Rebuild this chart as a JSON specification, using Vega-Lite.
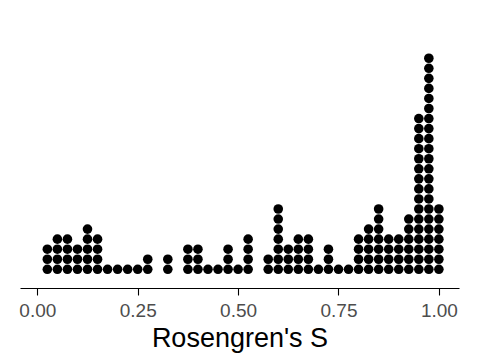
{
  "$schema": "https://vega.github.io/schema/vega-lite/v6.json",
  "width": 439,
  "height": 278,
  "autosize": "none",
  "padding": {"left": 20, "top": 10, "right": 21, "bottom": 76},
  "background": "white",
  "config": {"view": {"stroke": null}},
  "data": {"values": [
    {"s":0.025},{"s":0.025},{"s":0.025},
    {"s":0.05},{"s":0.05},{"s":0.05},{"s":0.05},
    {"s":0.075},{"s":0.075},{"s":0.075},{"s":0.075},
    {"s":0.1},{"s":0.1},{"s":0.1},
    {"s":0.125},{"s":0.125},{"s":0.125},{"s":0.125},{"s":0.125},
    {"s":0.15},{"s":0.15},{"s":0.15},{"s":0.15},
    {"s":0.175},
    {"s":0.2},
    {"s":0.225},
    {"s":0.25},
    {"s":0.275},{"s":0.275},
    {"s":0.325},{"s":0.325},
    {"s":0.375},{"s":0.375},{"s":0.375},
    {"s":0.4},{"s":0.4},{"s":0.4},
    {"s":0.425},
    {"s":0.45},
    {"s":0.475},{"s":0.475},{"s":0.475},
    {"s":0.5},
    {"s":0.525},{"s":0.525},{"s":0.525},{"s":0.525},
    {"s":0.575},{"s":0.575},
    {"s":0.6},{"s":0.6},{"s":0.6},{"s":0.6},{"s":0.6},{"s":0.6},{"s":0.6},
    {"s":0.625},{"s":0.625},{"s":0.625},
    {"s":0.65},{"s":0.65},{"s":0.65},{"s":0.65},
    {"s":0.675},{"s":0.675},{"s":0.675},{"s":0.675},
    {"s":0.7},
    {"s":0.725},{"s":0.725},{"s":0.725},
    {"s":0.75},
    {"s":0.775},
    {"s":0.8},{"s":0.8},{"s":0.8},{"s":0.8},
    {"s":0.825},{"s":0.825},{"s":0.825},{"s":0.825},{"s":0.825},
    {"s":0.85},{"s":0.85},{"s":0.85},{"s":0.85},{"s":0.85},{"s":0.85},{"s":0.85},
    {"s":0.875},{"s":0.875},{"s":0.875},{"s":0.875},
    {"s":0.9},{"s":0.9},{"s":0.9},{"s":0.9},
    {"s":0.925},{"s":0.925},{"s":0.925},{"s":0.925},{"s":0.925},{"s":0.925},
    {"s":0.95},{"s":0.95},{"s":0.95},{"s":0.95},{"s":0.95},{"s":0.95},{"s":0.95},{"s":0.95},
    {"s":0.95},{"s":0.95},{"s":0.95},{"s":0.95},{"s":0.95},{"s":0.95},{"s":0.95},{"s":0.95},
    {"s":0.975},{"s":0.975},{"s":0.975},{"s":0.975},{"s":0.975},{"s":0.975},{"s":0.975},{"s":0.975},
    {"s":0.975},{"s":0.975},{"s":0.975},{"s":0.975},{"s":0.975},{"s":0.975},{"s":0.975},{"s":0.975},
    {"s":0.975},{"s":0.975},{"s":0.975},{"s":0.975},{"s":0.975},{"s":0.975},
    {"s":1.0},{"s":1.0},{"s":1.0},{"s":1.0},{"s":1.0},{"s":1.0},{"s":1.0}
  ]},
  "transform": [
    {"window": [{"op": "row_number", "as": "stack"}], "groupby": ["s"]}
  ],
  "mark": {"type": "point", "filled": true, "color": "black", "opacity": 1, "size": 92, "strokeWidth": 0},
  "encoding": {
    "x": {
      "field": "s",
      "type": "quantitative",
      "scale": {"domain": [-0.0431, 1.0501], "nice": false, "zero": false},
      "axis": {
        "values": [0, 0.25, 0.5, 0.75, 1],
        "format": ".2f",
        "grid": false,
        "domainColor": "black",
        "domainWidth": 1.1,
        "tickColor": "black",
        "tickWidth": 1.1,
        "tickSize": 7,
        "labelFont": "Liberation Sans",
        "labelFontSize": 19,
        "labelColor": "#4D4D4D",
        "labelPadding": 6,
        "labelFlush": false,
        "title": "Rosengren's S",
        "titleFont": "Liberation Sans",
        "titleFontSize": 27,
        "titleFontWeight": "normal",
        "titleColor": "black",
        "titlePadding": 5
      }
    },
    "y": {
      "field": "stack",
      "type": "quantitative",
      "scale": {"domain": [-0.861, 26.8], "nice": false, "zero": false},
      "axis": null
    }
  }
}
